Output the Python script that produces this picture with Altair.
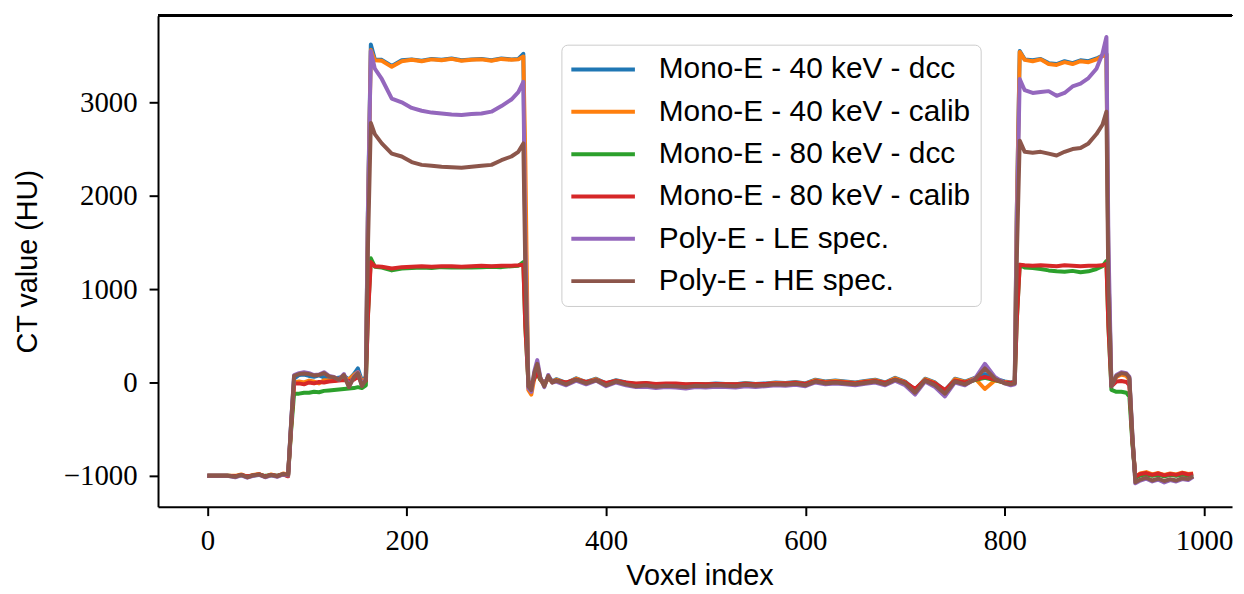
import altair as alt
import pandas as pd

# Voxel positions (shared sampling grid)
X = [0, 10, 20, 28, 34, 40, 46, 52, 58, 64, 70, 76, 81,
     84, 87,
     92, 97, 102, 107, 112, 117, 122, 127, 132, 137, 142, 147, 151, 155, 159,
     161, 164,
     168, 175, 185, 195, 205, 215, 225, 235, 245, 255, 265, 275, 285, 295, 305, 312, 317,
     319, 322,
     325, 328, 331, 334, 338, 342, 346,
     350, 360, 370, 380, 390, 400, 410, 420, 430, 440, 450, 460, 470, 480, 490, 500,
     510, 520, 530, 540, 550, 560, 570, 580, 590, 600, 610, 620, 630, 640, 650, 660,
     670, 680, 690, 700, 710, 720, 730, 740, 750, 760, 770, 780, 790, 800, 806, 810,
     812, 815,
     820, 828, 836, 844, 852, 860, 868, 876, 884, 892, 898, 902,
     904, 907,
     912, 917, 922, 925,
     928, 931,
     936, 942, 948, 954, 960, 966, 972, 978, 984, 989]

mono40_dcc = [-1000, -1000, -1000, -1005, -990, -1010, -995, -985, -1005, -990, -1000, -980, -990,
              -450, 40,
              80, 85, 70, 60, 75, 55, 60, 45, 50, 70, 30, 90, 150, 20, 60,
              1800, 3620,
              3460, 3455, 3390, 3450, 3460, 3445, 3465, 3455, 3470, 3450, 3460, 3465, 3450, 3470, 3460, 3465, 3520,
              1500, 20,
              -60, 60, 120, 40, -20, 60, 10,
              35, -5, 45, 5, 40, -10, 25, 0, -20, -10, -25, -15, -20, -30, -15, -20,
              -10, -15, -20, -5, -15, -10, 0, -5, 5, -10, 30, 10, 20, 10, 0, 15,
              30, 0, 50, 10, -80, 40, 0, -90, 40, 10, 50, 90, 40, 10, 0, 10,
              1800, 3550,
              3460, 3450, 3465, 3420, 3410, 3440, 3420, 3450, 3440, 3470, 3500, 3520,
              1200, -20,
              70, 90, 80, 40,
              -600, -1020,
              -990, -975, -995, -980, -1000, -985, -995, -980, -990, -985]

mono40_calib = [-1000, -1000, -1000, -1000, -985, -1010, -990, -980, -1010, -985, -1005, -975, -985,
                -480, 0,
                10, 0, 20, 10, -10, 25, 20, 15, 30, 40, 35, 80, 110, 10, 40,
                1750, 3560,
                3450, 3445, 3380, 3440, 3455, 3440, 3460, 3450, 3465, 3445, 3455, 3460, 3445, 3465, 3455, 3460, 3490,
                2400, -80,
                -130, 40, 110, 30, -30, 50, 0,
                30, -10, 40, 0, 35, -15, 20, -5, -25, -15, -30, -20, -25, -35, -20, -25,
                -15, -20, -25, -10, -20, -15, -5, -10, 0, -15, 25, 5, 15, 5, -5, 10,
                25, -5, 45, 5, -85, 35, -5, -95, 35, 5, 45, -70, 20, 5, -5, 5,
                1780, 3540,
                3455, 3440, 3460, 3410, 3400, 3430, 3410, 3440, 3430, 3460, 3495, 3510,
                1200, -30,
                60, 85, 70, 30,
                -600, -1010,
                -975, -960, -985, -970, -990, -975, -985, -965, -980, -975]

mono80_dcc = [-1000, -1000, -1000, -1005, -995, -1010, -995, -990, -1000, -995, -1000, -985, -1000,
              -520, -120,
              -120, -110, -110, -100, -105, -90, -85, -80, -75, -70, -65, -60, -50, -60, -30,
              700, 1330,
              1240, 1230, 1200, 1220, 1225, 1230, 1225, 1235, 1230, 1235, 1230, 1235, 1240, 1235, 1245, 1250, 1290,
              600, 0,
              -20, 50, 100, 30, -10, 50, 10,
              20, -5, 25, 0, 20, -10, 10, -5, -15, -10, -20, -15, -15, -25, -20, -25,
              -20, -25, -25, -20, -25, -20, -15, -15, -10, -20, 10, -5, 0, -5, -15, 0,
              10, -10, 25, -5, -75, 20, -15, -85, 15, -5, 25, 50, 25, -5, -10, -5,
              650, 1260,
              1230, 1225, 1215, 1200, 1190, 1185, 1195, 1180, 1190, 1215, 1245, 1300,
              600, -80,
              -100, -100, -110, -150,
              -650, -1020,
              -995, -985, -1000, -990, -1005, -990, -1000, -985, -995, -990]

mono80_calib = [-1000, -1000, -1000, -1005, -990, -1005, -995, -985, -1005, -990, -1000, -985, -1005,
                -490, -10,
                -10, -20, 0, -10, 5, 0, 10, 15, 20, 25, 15, 30, 60, 0, 20,
                680, 1290,
                1245, 1240, 1220, 1235, 1240, 1245, 1240, 1245, 1245, 1240, 1245, 1250, 1245, 1250, 1250, 1255, 1260,
                600, 10,
                -30, 40, 110, 40, -10, 50, 10,
                20, 0, 30, 5, 25, -5, 15, 0, -10, -5, -15, -10, -10, -20, -15, -20,
                -15, -20, -20, -15, -20, -15, -10, -10, -5, -15, 15, 0, 5, 0, -10, 5,
                15, -5, 30, 0, -70, 25, -10, -80, 20, 0, 30, 60, 30, 0, -5, 0,
                650, 1260,
                1255, 1250, 1255, 1250, 1245, 1255, 1250, 1245, 1250, 1250, 1255, 1270,
                600, -40,
                10, 15, 5, -30,
                -620, -1010,
                -980, -970, -990, -975, -995, -980, -990, -970, -985, -980]

poly_le = [-1000, -1000, -1000, -1015, -995, -1020, -1000, -990, -1015, -995, -1010, -985, -995,
           -430, 80,
           100, 110, 100, 80, 85, 110, 70, 60, 30, 90, -40, 60, 110, -30, 40,
           1750, 3550,
           3360, 3250, 3040, 3000, 2940, 2910, 2890, 2880, 2870, 2865, 2875, 2880, 2900, 2960, 3030, 3110, 3220,
           1500, -60,
           -100, 120, 240, 60, -50, 80, 0,
           10, -30, 20, -20, 20, -40, 0, -30, -50, -45, -60, -50, -55, -65, -50, -55,
           -45, -50, -55, -40, -50, -40, -30, -35, -25, -40, 0, -20, -10, -20, -30, -15,
           0, -30, 20, -30, -130, 10, -50, -150, 0, -30, 40, 200, 60, -10, -30, -20,
           1650, 3250,
           3130, 3100, 3110, 3120, 3070, 3100, 3170, 3200, 3260, 3360, 3520, 3700,
           1500, -40,
           80, 110, 100, 60,
           -550, -1080,
           -1050, -1030, -1060, -1040, -1070, -1045, -1060, -1035, -1045, -1010]

poly_he = [-1000, -1000, -1000, -1010, -990, -1015, -995, -985, -1010, -990, -1005, -980, -990,
           -440, 70,
           90, 95, 90, 75, 80, 100, 65, 55, 30, 80, -50, 55, 100, -40, 30,
           1400, 2780,
           2660, 2560, 2450, 2420, 2360, 2330, 2320, 2310, 2305, 2300, 2310, 2320, 2330, 2380, 2420, 2470, 2560,
           1200, -40,
           -80, 100, 200, 50, -40, 70, 0,
           20, -20, 30, -10, 25, -30, 10, -20, -40, -30, -45, -35, -40, -50, -35, -40,
           -30, -35, -40, -25, -35, -30, -20, -25, -15, -30, 10, -10, 0, -10, -20, -5,
           10, -20, 30, -10, -110, 20, -30, -120, 10, -20, 30, 150, 40, -10, -20, -10,
           1300, 2590,
           2470, 2460, 2470, 2450, 2430, 2470, 2500, 2510, 2560, 2660, 2760, 2900,
           1000, -40,
           70, 100, 90, 50,
           -560, -1070,
           -1040, -1020, -1050, -1030, -1055, -1035, -1050, -1025, -1035, -1005]

SERIES = ["Mono-E - 40 keV - dcc", "Mono-E - 40 keV - calib",
          "Mono-E - 80 keV - dcc", "Mono-E - 80 keV - calib",
          "Poly-E - LE spec.", "Poly-E - HE spec."]
COLORS = ["#1f77b4", "#ff7f0e", "#2ca02c", "#d62728", "#9467bd", "#8c564b"]
VALUES = [mono40_dcc, mono40_calib, mono80_dcc, mono80_calib, poly_le, poly_he]

rows = []
for k, (name, vals) in enumerate(zip(SERIES, VALUES)):
    for x, v in zip(X, vals):
        rows.append({"voxel": x, "ct": v, "series": name, "k": k})
df = pd.DataFrame(rows)

W, H = 1081, 494

lines = alt.Chart(df).mark_line(strokeWidth=4, strokeJoin="round").encode(
    x=alt.X("voxel:Q", scale=alt.Scale(domain=[-49.5, 1028], nice=False, zero=False),
            axis=alt.Axis(values=[0, 200, 400, 600, 800, 1000], title="Voxel index", format="d",
                          labelBaseline="alphabetic", labelPadding=34,
                          titleBaseline="alphabetic", titleY=78, titleX=545)),
    y=alt.Y("ct:Q", scale=alt.Scale(domain=[-1330, 3926], nice=False, zero=False),
            axis=alt.Axis(values=[-1000, 0, 1000, 2000, 3000], title="CT value (HU)",
                          labelExpr="replace(format(datum.value, 'd'), '-', '\u2212')",
                          labelPadding=12, titleBaseline="alphabetic", titleX=-122, titleY=247,
                          titleAngle=-90, titleAlign="center")),
    color=alt.Color("series:N", sort=SERIES,
                    scale=alt.Scale(domain=SERIES, range=COLORS),
                    legend=alt.Legend(orient="none", legendX=406, legendY=29, title=None,
                                      symbolType="M-3.75,0H12.25", symbolSize=64, symbolStrokeWidth=4,
                                      labelFont="Liberation Sans", labelFontSize=30, labelLimit=500,
                                      labelOffset=58, rowPadding=12.6, padding=10,
                                      strokeColor="#cccccc", fillColor="rgba(255,255,255,0.8)",
                                      cornerRadius=6)),
    order=alt.Order("k:Q"),
    detail="series:N",
)

top_spine = alt.Chart(df).mark_rule(color="black", strokeWidth=2).encode(
    x=alt.value(0), x2=alt.value(W), y=alt.value(0)
)

chart = alt.layer(lines, top_spine).properties(
    width=W, height=H, background="white",
    autosize=alt.AutoSizeParams(type="none"),
    padding={"left": 151, "top": 6, "right": 4, "bottom": 86},
).configure_view(stroke=None).configure_axis(
    grid=False, domainColor="black", domainWidth=2, tickColor="black", tickWidth=2, tickSize=9,
    labelFont="Liberation Serif", labelFontSize=29, labelColor="black",
    titleFont="Liberation Sans", titleFontSize=29, titleFontWeight="normal", titleColor="black",
)

chart.save("out.html", embed_options={"renderer": "svg", "actions": False})
